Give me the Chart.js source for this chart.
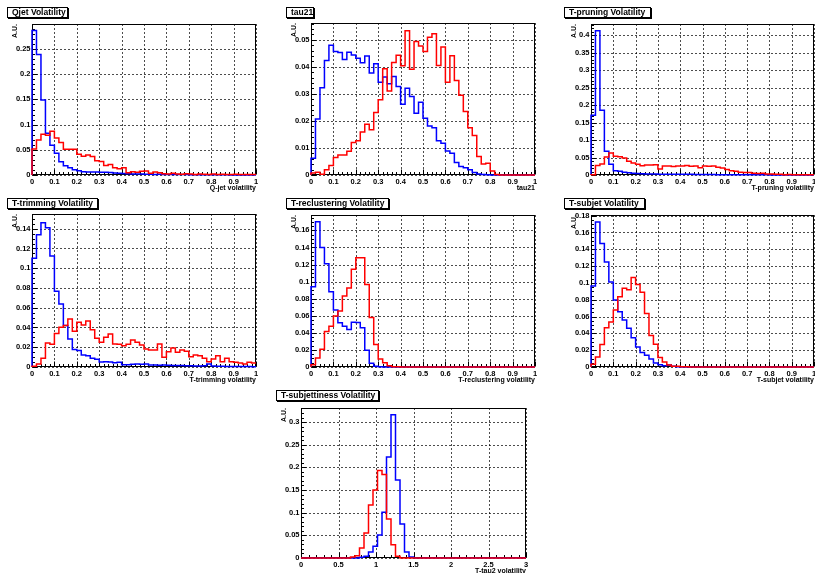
<!DOCTYPE html>
<html>
<head>
<meta charset="utf-8">
<script src="https://cdn.jsdelivr.net/npm/chart.js@4/dist/chart.umd.min.js"></script>
<style>
body { margin: 0; background: #fff; width: 815px; height: 573px; overflow: hidden; position: relative; font-family: "Liberation Sans", Arial, sans-serif; }
canvas { position: absolute; }
.ptitle { position: absolute; height: 9px; line-height: 9px; border: 1px solid #000; box-shadow: 1px 1px 0 #000; background: #fff; font-weight: bold; font-size: 8.5px; padding-left: 4px; white-space: nowrap; z-index: 2; }
</style>
</head>
<body>
<script>
// tick labels
var xTicksUnit = [0, 0.1, 0.2, 0.3, 0.4, 0.5, 0.6, 0.7, 0.8, 0.9, 1];
var xTicksTau2 = [0, 0.5, 1, 1.5, 2, 2.5, 3];
var yTicksQjet = [0, 0.05, 0.1, 0.15, 0.2, 0.25];
var yTicksTau21 = [0, 0.01, 0.02, 0.03, 0.04, 0.05];
var yTicksPrune = [0, 0.05, 0.1, 0.15, 0.2, 0.25, 0.3, 0.35, 0.4];
var yTicksTrim = [0, 0.02, 0.04, 0.06, 0.08, 0.1, 0.12, 0.14];
var yTicksRecl = [0, 0.02, 0.04, 0.06, 0.08, 0.1, 0.12, 0.14, 0.16];
var yTicksSubj = [0, 0.02, 0.04, 0.06, 0.08, 0.1, 0.12, 0.14, 0.16, 0.18];
var yTicksTau2 = [0, 0.05, 0.1, 0.15, 0.2, 0.25, 0.3];

// histogram contents (50 bins each)
var qjetBlue = [0.287, 0.239, 0.149, 0.083, 0.059, 0.043, 0.0265, 0.0186, 0.0146, 0.0106,
    0.0086, 0.0066, 0.006, 0.006, 0.006, 0.0053, 0.0055, 0.005, 0.004, 0.0035,
    0.003, 0.0025, 0.002, 0.002, 0.002, 0.0015, 0.0015, 0.0012, 0.0015, 0.001,
    0.001, 0.0012, 0.001, 0.0008, 0.0008, 0.0006, 0.0006, 0.0005, 0.0005, 0.0004,
    0.0004, 0.0003, 0.0003, 0.0003, 0.0002, 0.0002, 0.0002, 0.0002, 0.0001, 0.0001];
var qjetRed = [0.0517, 0.0696, 0.081, 0.079, 0.0869, 0.0736, 0.0643, 0.051, 0.051, 0.051,
    0.041, 0.037, 0.0398, 0.0365, 0.0285, 0.027, 0.019, 0.021, 0.0146, 0.0126,
    0.0146, 0.0046, 0.0066, 0.0053, 0.0073, 0.008, 0.0033, 0.006, 0.0046, 0.0027,
    0.002, 0.0033, 0.002, 0.0015, 0.0025, 0.0018, 0.0012, 0.002, 0.0015, 0.0012,
    0.0018, 0.001, 0.0015, 0.0012, 0.001, 0.0015, 0.001, 0.0012, 0.0008, 0.001];

var tau21Blue = [0.0062, 0.0207, 0.0323, 0.0423, 0.048, 0.0457, 0.0453, 0.0427, 0.0454, 0.0444,
    0.0432, 0.0415, 0.044, 0.0377, 0.0411, 0.0343, 0.0362, 0.0337, 0.0364, 0.0327,
    0.0262, 0.0321, 0.029, 0.0228, 0.0269, 0.021, 0.0181, 0.0175, 0.0127, 0.0117,
    0.0089, 0.008, 0.0046, 0.0031, 0.0027, 0.0019, 0.0009, 0.0004, 0.0002, 0.0001,
    0, 0, 0, 0, 0, 0, 0, 0, 0, 0];
var tau21Red = [0.0007, 0.001, 0.0003, 0.0019, 0.0035, 0.0065, 0.0074, 0.0074, 0.0088, 0.012,
    0.0127, 0.0159, 0.0188, 0.0167, 0.0231, 0.0278, 0.0393, 0.0311, 0.0416, 0.0443,
    0.0404, 0.0533, 0.0391, 0.0494, 0.0477, 0.0457, 0.0509, 0.0522, 0.0405, 0.0473,
    0.0343, 0.0441, 0.0349, 0.0295, 0.0235, 0.0175, 0.0146, 0.0068, 0.0041, 0.0043,
    0.0015, 0.0002, 0, 0, 0, 0, 0, 0, 0, 0];

var pruneBlue = [0.171, 0.412, 0.185, 0.068, 0.0305, 0.0124, 0.0105, 0.0076, 0.0067, 0.005,
    0.004, 0.0035, 0.003, 0.003, 0.0028, 0.0025, 0.0025, 0.0022, 0.002, 0.002,
    0.002, 0.0018, 0.0018, 0.0015, 0.0015, 0.0015, 0.0012, 0.0012, 0.001, 0.001,
    0.001, 0.0008, 0.0008, 0.0008, 0.0006, 0.0006, 0.0005, 0.0005, 0.0004, 0.0004,
    0.0003, 0.0003, 0.0003, 0.0002, 0.0002, 0.0002, 0.0002, 0.0001, 0.0001, 0.0001];
var pruneRed = [0.001, 0.027, 0.0315, 0.0515, 0.063, 0.0535, 0.0525, 0.0487, 0.039, 0.0345,
    0.0305, 0.0267, 0.0286, 0.0286, 0.0296, 0.017, 0.026, 0.026, 0.024, 0.026,
    0.026, 0.027, 0.025, 0.026, 0.021, 0.026, 0.025, 0.026, 0.022, 0.02,
    0.016, 0.012, 0.011, 0.008, 0.007, 0.007, 0.005, 0.004, 0.005, 0.003,
    0.003, 0.002, 0.002, 0.001, 0.0015, 0.001, 0.001, 0.001, 0.0008, 0.0008];

var trimBlue = [0.110, 0.134, 0.146, 0.141, 0.1125, 0.0767, 0.0639, 0.0419, 0.0284, 0.0176,
    0.0166, 0.0122, 0.0115, 0.0088, 0.0078, 0.0051, 0.0054, 0.0051, 0.0044, 0.0047,
    0.0024, 0.0024, 0.0027, 0.003, 0.0027, 0.003, 0.002, 0.002, 0.0018, 0.002,
    0.0018, 0.0015, 0.0015, 0.0015, 0.0012, 0.0012, 0.001, 0.001, 0.0012, 0.003,
    0.001, 0.0008, 0.0008, 0.0006, 0.0006, 0.0005, 0.0005, 0.0004, 0.0004, 0.0003];
var trimRed = [0.0007, 0.003, 0.0088, 0.0243, 0.023, 0.0338, 0.0402, 0.0419, 0.0486, 0.0361,
    0.0453, 0.0426, 0.0466, 0.0378, 0.029, 0.025, 0.030, 0.0334, 0.0233, 0.023,
    0.0216, 0.023, 0.0274, 0.025, 0.0223, 0.0182, 0.0172, 0.0172, 0.0233, 0.0098,
    0.0155, 0.0193, 0.0149, 0.0172, 0.0159, 0.0105, 0.0122, 0.0115, 0.0088, 0.0054,
    0.0081, 0.0115, 0.0054, 0.0088, 0.0054, 0.0047, 0.004, 0.003, 0.0047, 0.004];

var reclBlue = [0.094, 0.170, 0.140, 0.121, 0.088, 0.0667, 0.0518, 0.0478, 0.044, 0.0525,
    0.052, 0.0459, 0.0196, 0.0043, 0.0008, 0.0002, 0, 0, 0, 0,
    0, 0, 0, 0, 0, 0, 0, 0, 0, 0,
    0, 0, 0, 0, 0, 0, 0, 0, 0, 0,
    0, 0, 0, 0, 0, 0, 0, 0, 0, 0];
var reclRed = [0.0027, 0.0106, 0.0208, 0.0416, 0.0478, 0.0596, 0.0655, 0.0831, 0.0925, 0.1145,
    0.128, 0.128, 0.0965, 0.058, 0.0263, 0.0094, 0.0051, 0.0016, 0.0004, 0.0002,
    0.0001, 0, 0, 0, 0, 0, 0, 0, 0, 0,
    0, 0, 0, 0, 0, 0, 0, 0, 0, 0,
    0, 0, 0, 0, 0, 0, 0, 0, 0, 0];

var subjBlue = [0.0964, 0.1725, 0.147, 0.125, 0.101, 0.0797, 0.0657, 0.0558, 0.0462, 0.0347,
    0.0239, 0.0171, 0.0139, 0.0096, 0.0048, 0.0028, 0.0016, 0.0024, 0.0008, 0.0004,
    0, 0, 0, 0, 0, 0, 0, 0, 0, 0,
    0, 0, 0, 0, 0, 0, 0, 0, 0, 0,
    0, 0, 0, 0, 0, 0, 0, 0, 0, 0];
var subjRed = [0.0032, 0.012, 0.0267, 0.0466, 0.0534, 0.0677, 0.0837, 0.0936, 0.092, 0.1064,
    0.098, 0.0888, 0.0637, 0.0374, 0.0271, 0.0112, 0.006, 0.0024, 0.0008, 0.0008,
    0.0003, 0.0002, 0, 0, 0, 0, 0, 0, 0, 0,
    0, 0, 0, 0, 0, 0, 0, 0, 0, 0,
    0, 0, 0, 0, 0, 0, 0, 0, 0, 0];

var tau2Blue = [0, 0, 0, 0, 0, 0, 0, 0, 0, 0,
    0, 0, 0, 0.0015, 0.004, 0.013, 0.026, 0.051, 0.101, 0.223,
    0.316, 0.172, 0.075, 0.013, 0.002, 0, 0, 0, 0, 0,
    0, 0, 0, 0, 0, 0, 0, 0, 0, 0,
    0, 0, 0, 0, 0, 0, 0, 0, 0, 0];
var tau2Red = [0, 0, 0, 0, 0, 0, 0, 0, 0, 0,
    0, 0.002, 0.005, 0.022, 0.055, 0.117, 0.15, 0.193, 0.184, 0.086,
    0.029, 0.004, 0, 0, 0, 0, 0, 0, 0, 0,
    0, 0, 0, 0, 0, 0, 0, 0, 0, 0,
    0, 0, 0, 0, 0, 0, 0, 0, 0, 0];

var FONT = "'Liberation Sans', Arial, sans-serif";

// plot: [left, top, right, bottom] of the frame in page pixels
var panels = [
    { title: 'Qjet Volatility', box: [7, 7, 61], plot: [32, 24, 256, 175], xTitle: 'Q-jet volatility',
      xMax: 1, xTicks: xTicksUnit, xMinor: 0.02, yMax: 0.2997, yTicks: yTicksQjet, yMinor: 0.01, blue: qjetBlue, red: qjetRed },
    { title: 'tau21', box: [286, 7, 28], plot: [311, 23, 535, 175], xTitle: 'tau21',
      xMax: 1, xTicks: xTicksUnit, xMinor: 0.02, yMax: 0.0562, yTicks: yTicksTau21, yMinor: 0.002, blue: tau21Blue, red: tau21Red },
    { title: 'T-pruning Volatility', box: [564, 7, 87], plot: [591, 24, 814, 175], xTitle: 'T-pruning volatility',
      xMax: 1, xTicks: xTicksUnit, xMinor: 0.02, yMax: 0.4315, yTicks: yTicksPrune, yMinor: 0.01, blue: pruneBlue, red: pruneRed },
    { title: 'T-trimming Volatility', box: [7, 198, 91], plot: [32, 214, 256, 367], xTitle: 'T-trimming volatility',
      xMax: 1, xTicks: xTicksUnit, xMinor: 0.02, yMax: 0.1549, yTicks: yTicksTrim, yMinor: 0.005, blue: trimBlue, red: trimRed },
    { title: 'T-reclustering Volatility', box: [286, 198, 103], plot: [311, 215, 535, 367], xTitle: 'T-reclustering volatility',
      xMax: 1, xTicks: xTicksUnit, xMinor: 0.02, yMax: 0.178, yTicks: yTicksRecl, yMinor: 0.005, blue: reclBlue, red: reclRed },
    { title: 'T-subjet Volatility', box: [564, 198, 81], plot: [591, 215, 814, 367], xTitle: 'T-subjet volatility',
      xMax: 1, xTicks: xTicksUnit, xMinor: 0.02, yMax: 0.1808, yTicks: yTicksSubj, yMinor: 0.005, blue: subjBlue, red: subjRed },
    { title: 'T-subjettiness Volatility', box: [276, 390, 103], plot: [301, 408, 526, 558], xTitle: 'T-tau2 volatility',
      xMax: 3, xTicks: xTicksTau2, xMinor: 0.1, yMax: 0.331, yTicks: yTicksTau2, yMinor: 0.01, blue: tau2Blue, red: tau2Red }
];

// histogram -> step points at bin low edges
function steps(values, xMax) {
    var w = xMax / values.length;
    var pts = [{ x: 0, y: 0 }];
    values.forEach(function (v, i) { pts.push({ x: i * w, y: v }); });
    pts.push({ x: xMax, y: values[values.length - 1] });
    return pts;
}

// ROOT-like frame: dotted grid, solid box, inner tick marks
var rootFrame = {
    id: 'rootFrame',
    beforeDatasetsDraw: function (chart, args, opts) {
        var ctx = chart.ctx, a = chart.chartArea, x = chart.scales.x, y = chart.scales.y;
        ctx.save();
        ctx.lineWidth = 1;
        ctx.strokeStyle = 'rgba(0,0,0,0.7)';
        ctx.setLineDash([2, 2]);
        ctx.beginPath();
        x.ticks.forEach(function (t) {
            var px = Math.round(x.getPixelForValue(t.value)) + 0.5;
            ctx.moveTo(px, a.top); ctx.lineTo(px, a.bottom);
        });
        y.ticks.forEach(function (t) {
            var py = Math.round(y.getPixelForValue(t.value)) + 0.5;
            ctx.moveTo(a.left, py); ctx.lineTo(a.right, py);
        });
        ctx.stroke();
        ctx.setLineDash([]);
        ctx.strokeStyle = '#000';
        var l = Math.round(a.left) + 0.5, tp = Math.round(a.top) + 0.5;
        var r = Math.round(a.right) - 0.5, b = Math.round(a.bottom) - 0.5;
        ctx.strokeRect(l, tp, r - l, b - tp);

        ctx.beginPath();
        var xr = Math.round((x.ticks[1].value - x.ticks[0].value) / opts.xMinor);
        for (var k = 0; k * opts.xMinor <= x.max + 1e-9; k++) {
            var px = Math.round(x.getPixelForValue(k * opts.xMinor)) + 0.5;
            var len = (k % xr === 0) ? 5 : 2.5;
            ctx.moveTo(px, b); ctx.lineTo(px, b - len);
        }
        var yr = Math.round((y.ticks[1].value - y.ticks[0].value) / opts.yMinor);
        for (var j = 0; j * opts.yMinor <= y.max + 1e-9; j++) {
            var py = Math.round(y.getPixelForValue(j * opts.yMinor)) + 0.5;
            var ylen = (j % yr === 0) ? 5 : 2.5;
            ctx.moveTo(l, py); ctx.lineTo(l + ylen, py);
        }
        ctx.stroke();
        ctx.restore();
    }
};

var PAD_L = 32, PAD_T = 8, PAD_R = 8, PAD_B = 22;

panels.forEach(function (p) {
    var box = document.createElement('div');
    box.className = 'ptitle';
    box.style.left = p.box[0] + 'px';
    box.style.top = p.box[1] + 'px';
    box.style.width = (p.box[2] - 6) + 'px';
    box.textContent = p.title;
    document.body.appendChild(box);

    var cv = document.createElement('canvas');
    var w = p.plot[2] - p.plot[0] + PAD_L + PAD_R;
    var h = p.plot[3] - p.plot[1] + PAD_T + PAD_B;
    cv.width = w; cv.height = h;
    cv.style.left = (p.plot[0] - PAD_L) + 'px';
    cv.style.top = (p.plot[1] - PAD_T) + 'px';
    cv.style.width = w + 'px'; cv.style.height = h + 'px';
    document.body.appendChild(cv);

    var tickFont = { family: FONT, size: 7.5, weight: 'bold' };
    var titleFont = { family: FONT, size: 7, weight: 'bold' };

    new Chart(cv, {
        type: 'line',
        data: {
            datasets: [
                { label: 'red', data: steps(p.red, p.xMax), borderColor: '#ff0000', borderWidth: 1.5,
                  stepped: 'before', pointRadius: 0, fill: false, clip: 3 },
                { label: 'blue', data: steps(p.blue, p.xMax), borderColor: '#0000ff', borderWidth: 1.5,
                  stepped: 'before', pointRadius: 0, fill: false, clip: 3 }
            ]
        },
        options: {
            responsive: false,
            animation: false,
            layout: { padding: { left: 0, top: PAD_T, right: PAD_R, bottom: 0 } },
            plugins: {
                legend: { display: false },
                tooltip: { enabled: false },
                rootFrame: { xMinor: p.xMinor, yMinor: p.yMinor }
            },
            scales: {
                x: {
                    type: 'linear', min: 0, max: p.xMax,
                    afterBuildTicks: function (s) { s.ticks = p.xTicks.map(function (v) { return { value: v }; }); },
                    afterFit: function (s) { s.height = PAD_B; },
                    ticks: { font: tickFont, color: '#000', padding: 2, maxRotation: 0, autoSkip: false,
                             callback: function (v) { return String(v); } },
                    grid: { display: false, drawTicks: false },
                    border: { display: false },
                    title: { display: true, text: p.xTitle, align: 'end', font: titleFont, color: '#000',
                             padding: { top: 0, bottom: 4.5 } }
                },
                y: {
                    type: 'linear', min: 0, max: p.yMax,
                    afterBuildTicks: function (s) { s.ticks = p.yTicks.map(function (v) { return { value: v }; }); },
                    afterFit: function (s) { s.width = PAD_L; },
                    ticks: { font: tickFont, color: '#000', padding: 1.5, autoSkip: false,
                             callback: function (v) { return String(v); } },
                    grid: { display: false, drawTicks: false },
                    border: { display: false },
                    title: { display: true, text: 'A.U.', align: 'end', font: titleFont, color: '#000',
                             padding: { top: 11, bottom: 0 } }
                }
            }
        },
        plugins: [rootFrame]
    });
});
</script>
</body>
</html>
